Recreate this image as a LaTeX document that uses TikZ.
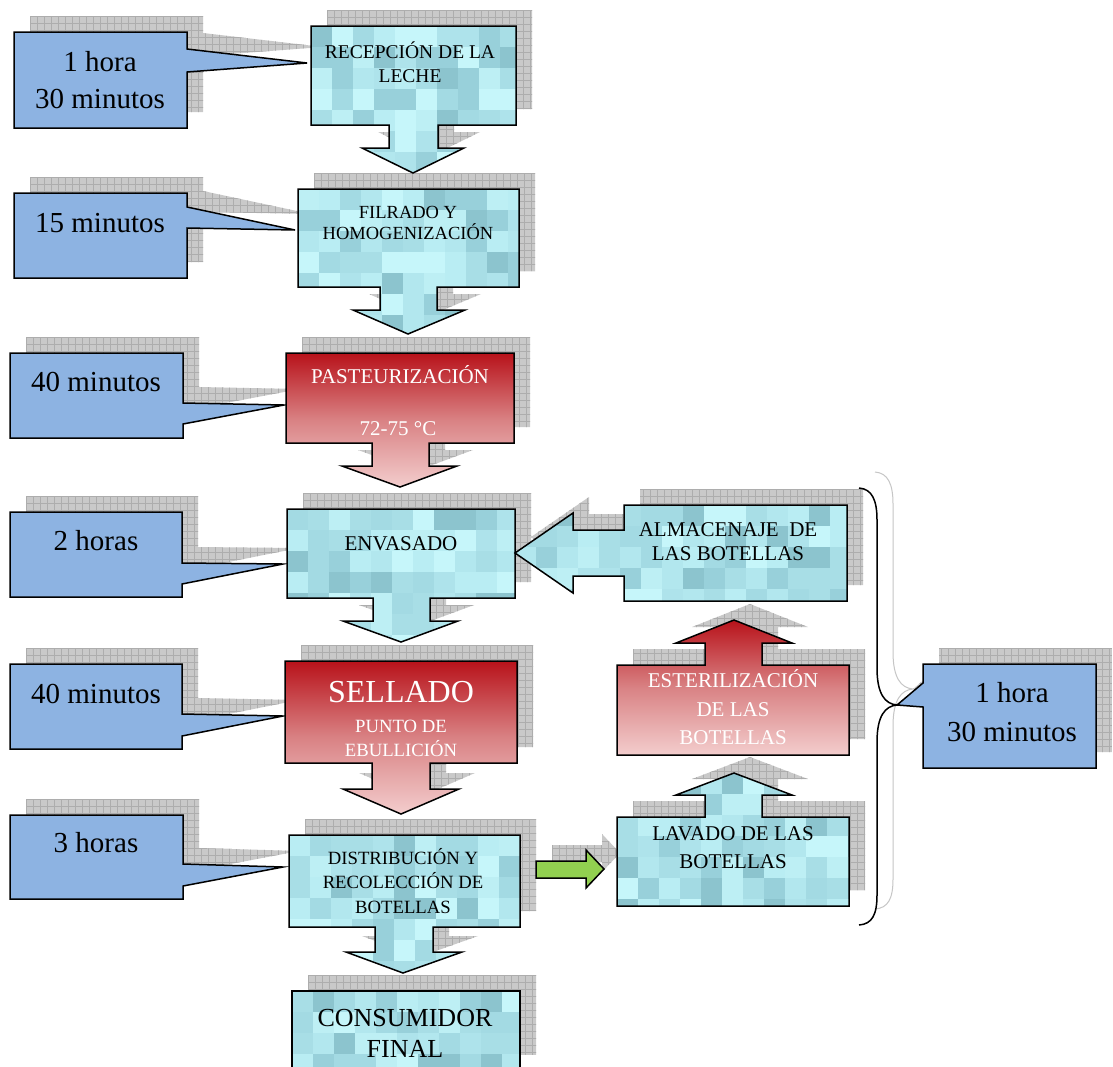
\documentclass[tikz,border=0pt]{standalone}
\usepackage{fontspec}
\setmainfont{Liberation Serif}
\definecolor{callblue}{HTML}{8DB3E2}
\definecolor{shfill}{HTML}{C9C9C9}
\definecolor{shline}{HTML}{ADADAD}
\definecolor{mos1}{HTML}{B9EDF3}
\definecolor{mos2}{HTML}{AEE3EB}
\definecolor{mos3}{HTML}{A3DAE3}
\definecolor{mos4}{HTML}{C6F6FA}
\definecolor{mos5}{HTML}{B2E7EE}
\definecolor{mos6}{HTML}{98D0DA}
\definecolor{mos7}{HTML}{8CC4CE}
\definecolor{mos8}{HTML}{BDEFF4}
\definecolor{mos9}{HTML}{A8DEE6}
\definecolor{redtop}{HTML}{B8121A}
\definecolor{redmid}{HTML}{D98284}
\definecolor{redbot}{HTML}{F3CDCD}
\definecolor{arrgreen}{HTML}{92D050}
\newcommand\shadowshape[3]{%
  \begin{scope}[shift={(16,-16)}]
    \clip #1;
    \fill[shfill] ({#2-5},{#3-5}) rectangle +(350,180);
    \foreach \k in {0,...,50}{\draw[shline,line width=0.4pt] ({#2+\k*7},{#3-5}) -- ++(0,180);}
    \foreach \k in {0,...,26}{\draw[shline,line width=0.4pt] ({#2-5},{#3+\k*7}) -- ++(350,0);}
  \end{scope}}
\newcommand\mosaicshape[3]{%
  \begin{scope}
    \clip #1;
    \foreach \i in {0,...,15}{\foreach \j in {0,...,7}{%
      \pgfmathrandominteger{\ri}{1}{9}%
      \fill[fill=mos\ri] ({#2+\i*21},{#3+\j*21}) rectangle +(21.6,21.6);}}
  \end{scope}
  \draw[outl] #1;}
\begin{document}
\begin{tikzpicture}[x=1pt,y=-1pt,
  outl/.style={draw=black,line width=1.5pt,line join=miter},
  tx/.style={anchor=base,inner sep=0pt},
  ctx/.style={tx,font=\fontsize{29}{34}\selectfont},
  redshade/.style={top color=redtop,bottom color=redbot,middle color=redmid}]
\useasboundingbox (0,0) rectangle (1113,1066);
\clip (0,0) rectangle (1113,1066);
\fill[white] (0,0) rectangle (1113,1066);
\pgfmathsetseed{4711}
% ---------- shape paths
\def\pathCa{(14,32) -- (187,32) -- (187,49) -- (307,63) -- (187,72) -- (187,128) -- (14,128) -- cycle}
\def\pathCb{(14,193) -- (187,193) -- (187,207) -- (295,230) -- (187,228) -- (187,278) -- (14,278) -- cycle}
\def\pathCc{(10,353) -- (183,353) -- (183,403) -- (284,405) -- (183,424) -- (183,438) -- (10,438) -- cycle}
\def\pathCd{(10,512) -- (182,512) -- (182,563) -- (283,564) -- (182,584) -- (182,597) -- (10,597) -- cycle}
\def\pathCe{(10,664) -- (182,664) -- (182,714) -- (283,716) -- (182,736) -- (182,749) -- (10,749) -- cycle}
\def\pathCf{(10,815) -- (183,815) -- (183,864) -- (283,867) -- (183,886) -- (183,899) -- (10,899) -- cycle}
\def\pathCg{(923,664) -- (1096,664) -- (1096,768) -- (923,768) -- (923,707) -- (897,705) -- (923,683) -- cycle}
\def\pathPa{(311,26) -- (516,26) -- (516,125) -- (438,125) -- (438,148) -- (464,148) -- (413,173) -- (362,148) -- (389,148) -- (389,125) -- (311,125) -- cycle}
\def\pathPb{(298,189) -- (519,189) -- (519,287) -- (437,287) -- (437,310) -- (465,310) -- (408,334) -- (353,310) -- (380,310) -- (380,287) -- (298,287) -- cycle}
\def\pathPc{(286,353) -- (514,353) -- (514,443) -- (429,443) -- (429,466) -- (457,466) -- (400,487) -- (342,466) -- (372,466) -- (372,443) -- (286,443) -- cycle}
\def\pathPd{(287,509) -- (515,509) -- (515,598) -- (430,598) -- (430,621) -- (458,621) -- (401,642) -- (343,621) -- (373,621) -- (373,598) -- (287,598) -- cycle}
\def\pathPe{(285,661) -- (517,661) -- (517,763) -- (430,763) -- (430,789) -- (459,789) -- (401,814) -- (343,789) -- (372,789) -- (372,763) -- (285,763) -- cycle}
\def\pathPf{(289,835) -- (520,835) -- (520,927) -- (433,927) -- (433,952) -- (462,952) -- (403,973) -- (346,952) -- (375,952) -- (375,927) -- (289,927) -- cycle}
\def\pathPg{(292,991) -- (520,991) -- (520,1070) -- (292,1070) -- cycle}
\def\pathRa{(624,505) -- (847,505) -- (847,601) -- (624,601) -- (624,576) -- (573,576) -- (573,593) -- (515,553) -- (573,513) -- (573,530) -- (624,530) -- cycle}
\def\pathRb{(617,665) -- (705,665) -- (705,643) -- (676,643) -- (734,620) -- (792,643) -- (762,643) -- (762,665) -- (849,665) -- (849,755) -- (617,755) -- cycle}
\def\pathRc{(617,817) -- (705,817) -- (705,795) -- (676,795) -- (734,773) -- (792,795) -- (762,795) -- (762,817) -- (849,817) -- (849,906) -- (617,906) -- cycle}
\def\pathG{(536,861) -- (586,861) -- (586,850) -- (604,869) -- (586,888) -- (586,878) -- (536,878) -- cycle}
% ---------- shadows
\shadowshape{\pathCa}{14}{32}
\shadowshape{\pathCb}{14}{193}
\shadowshape{\pathCc}{10}{353}
\shadowshape{\pathCd}{10}{512}
\shadowshape{\pathCe}{10}{664}
\shadowshape{\pathCf}{10}{815}
\shadowshape{\pathCg}{897}{664}
\shadowshape{\pathPa}{311}{26}
\shadowshape{\pathPb}{298}{189}
\shadowshape{\pathPc}{286}{353}
\shadowshape{\pathPd}{287}{509}
\shadowshape{\pathPe}{285}{661}
\shadowshape{\pathPf}{289}{835}
\shadowshape{\pathPg}{292}{991}
\shadowshape{\pathRa}{515}{505}
\shadowshape{\pathRb}{617}{620}
\shadowshape{\pathRc}{617}{773}
\shadowshape{\pathG}{536}{850}
% brace shadow
\draw[gray!45,line width=1pt] (875,472) .. controls (888,473) and (893,484) .. (893,504) -- (893,652) .. controls (893,678) and (901,688) .. (913,689) .. controls (901,690) and (893,700) .. (893,726) -- (893,879) .. controls (893,899) and (888,908) .. (875,909);
% ---------- callouts
\foreach \p in {\pathCa,\pathCb,\pathCc,\pathCd,\pathCe,\pathCf,\pathCg}{\filldraw[fill=callblue,outl] \p;}
% ---------- cyan mosaic shapes
\mosaicshape{\pathPa}{311}{26}
\mosaicshape{\pathPb}{298}{189}
\mosaicshape{\pathPd}{287}{509}
\mosaicshape{\pathPf}{289}{835}
\mosaicshape{\pathPg}{292}{991}
\mosaicshape{\pathRa}{515}{505}
\mosaicshape{\pathRc}{617}{773}
% ---------- red gradient shapes
\shade[redshade] \pathPc; \draw[outl] \pathPc;
\shade[redshade] \pathPe; \draw[outl] \pathPe;
\shade[redshade] \pathRb; \draw[outl] \pathRb;
% ---------- green arrow
\filldraw[fill=arrgreen,outl] \pathG;
% ---------- brace
\draw[black,line width=1.5pt] (859,488) .. controls (872,489) and (877,500) .. (877,520) -- (877,668) .. controls (877,694) and (885,704) .. (897,705) .. controls (885,706) and (877,716) .. (877,742) -- (877,895) .. controls (877,915) and (872,924) .. (859,925);
% ---------- texts
\node[ctx] (ca1) at (100,71) {1 hora};
\node[ctx] (ca2) at (100,108) {30 minutos};
\node[ctx] (cb1) at (100,232) {15 minutos};
\node[ctx] (cc1) at (96,391) {40 minutos};
\node[ctx] (cd1) at (96,550) {2 horas};
\node[ctx] (ce1) at (96,703) {40 minutos};
\node[ctx] (cf1) at (96,852) {3 horas};
\node[ctx] (cg1) at (1012,702) {1 hora};
\node[ctx] (cg2) at (1012,741) {30 minutos};
\node[tx,font=\fontsize{19.5}{23}\selectfont] (pa1) at (410,58) {RECEPCIÓN DE LA};
\node[tx,font=\fontsize{19.5}{23}\selectfont] (pa2) at (410,82) {LECHE};
\node[tx,font=\fontsize{18.5}{22}\selectfont] (pb1) at (408,218) {FILRADO Y};
\node[tx,font=\fontsize{18.5}{22}\selectfont] (pb2) at (408,239) {HOMOGENIZACIÓN};
\node[tx,white,font=\fontsize{21}{25}\selectfont] (pc1) at (400,383) {PASTEURIZACIÓN};
\node[tx,white,font=\fontsize{21}{25}\selectfont] (pc2) at (398,435) {72-75 °C};
\node[tx,font=\fontsize{21}{25}\selectfont] (pd1) at (401,550) {ENVASADO};
\node[tx,white,font=\fontsize{32}{36}\selectfont] (pe1) at (401,702) {SELLADO};
\node[tx,white,font=\fontsize{18.7}{22}\selectfont] (pe2) at (401,732) {PUNTO DE};
\node[tx,white,font=\fontsize{18.7}{22}\selectfont] (pe3) at (401,756) {EBULLICIÓN};
\node[tx,font=\fontsize{18.7}{22}\selectfont] (pf1) at (403,864) {DISTRIBUCIÓN Y};
\node[tx,font=\fontsize{18.7}{22}\selectfont] (pf2) at (403,888) {RECOLECCIÓN DE};
\node[tx,font=\fontsize{18.7}{22}\selectfont] (pf3) at (403,913) {BOTELLAS};
\node[tx,font=\fontsize{26}{30}\selectfont] (pg1) at (405,1026) {CONSUMIDOR};
\node[tx,font=\fontsize{26}{30}\selectfont] (pg2) at (405,1057) {FINAL};
\node[tx,font=\fontsize{21}{25}\selectfont] (ra1) at (728,536) {ALMACENAJE\ \ DE};
\node[tx,font=\fontsize{21}{25}\selectfont] (ra2) at (728,560) {LAS BOTELLAS};
\node[tx,white,font=\fontsize{21}{25}\selectfont] (rb1) at (733,687) {ESTERILIZACIÓN};
\node[tx,white,font=\fontsize{21}{25}\selectfont] (rb2) at (733,716) {DE LAS};
\node[tx,white,font=\fontsize{21}{25}\selectfont] (rb3) at (733,744) {BOTELLAS};
\node[tx,font=\fontsize{21}{25}\selectfont] (rc1) at (733,840) {LAVADO DE LAS};
\node[tx,font=\fontsize{21}{25}\selectfont] (rc2) at (733,868) {BOTELLAS};
\end{tikzpicture}
\end{document}
